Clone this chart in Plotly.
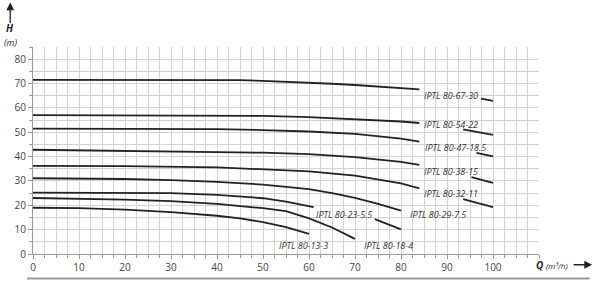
import plotly.graph_objects as go

# ---- data (Q in m3/h, H in m) ----
models = ["IPTL 80-67-30", "IPTL 80-54-22", "IPTL 80-47-18.5", "IPTL 80-38-15",
          "IPTL 80-32-11", "IPTL 80-29-7.5", "IPTL 80-23-5.5", "IPTL 80-18-4", "IPTL 80-13-3"]

q_67_30 = [0, 10, 20, 30, 40, 45, 50, 55, 60, 65, 70, 75, 80, 84]
h_67_30 = [71.5, 71.5, 71.5, 71.5, 71.5, 71.4, 71.1, 70.8, 70.4, 69.9, 69.4, 68.8, 68.2, 67.6]
q_67_30_tail = [97.4, 100]
h_67_30_tail = [63.8, 62.9]

q_54_22 = [0, 20, 40, 50, 60, 70, 80, 84]
h_54_22 = [57.0, 57.0, 56.9, 56.7, 56.2, 55.4, 54.4, 53.8]
q_54_22_tail = [93.5, 100]
h_54_22_tail = [51.2, 48.9]

q_47_18 = [0, 20, 30, 40, 50, 60, 70, 80, 84]
h_47_18 = [51.5, 51.5, 51.5, 51.3, 50.9, 50.3, 49.3, 47.4, 46.1]
q_47_18_tail = [96.4, 100]
h_47_18_tail = [41.5, 40.1]

q_38_15 = [0, 20, 40, 50, 60, 70, 80, 84]
h_38_15 = [42.8, 42.3, 41.8, 41.6, 41.0, 39.8, 37.8, 36.6]
q_38_15_tail = [95.3, 100]
h_38_15_tail = [31.6, 29.2]

q_32_11 = [0, 20, 40, 50, 60, 70, 80, 84]
h_32_11 = [36.2, 36.1, 35.6, 34.9, 33.9, 32.2, 29.0, 26.9]
q_32_11_tail = [93.5, 100]
h_32_11_tail = [22.5, 19.2]

q_29_7 = [0, 20, 30, 40, 50, 60, 65, 70, 75, 80]
h_29_7 = [31.1, 30.8, 30.3, 29.6, 28.5, 26.6, 25.0, 23.0, 20.6, 17.8]

q_23_5 = [0, 20, 30, 40, 50, 55, 61]
h_23_5 = [25.2, 25.2, 25.0, 24.3, 22.9, 21.5, 19.2]
q_23_5_tail = [74.3, 80]
h_23_5_tail = [14.3, 10.1]

q_18_4 = [0, 10, 20, 30, 40, 50, 55, 60, 65, 70]
h_18_4 = [23.0, 22.8, 22.3, 21.7, 20.6, 18.8, 17.6, 14.6, 10.9, 6.2]

q_13_3 = [0, 10, 20, 30, 40, 45, 50, 55, 60]
h_13_3 = [19.0, 18.8, 18.2, 17.2, 15.7, 14.6, 13.1, 11.0, 8.3]

curves = [
    (q_67_30, h_67_30, q_67_30_tail, h_67_30_tail),
    (q_54_22, h_54_22, q_54_22_tail, h_54_22_tail),
    (q_47_18, h_47_18, q_47_18_tail, h_47_18_tail),
    (q_38_15, h_38_15, q_38_15_tail, h_38_15_tail),
    (q_32_11, h_32_11, q_32_11_tail, h_32_11_tail),
    (q_29_7, h_29_7, [], []),
    (q_23_5, h_23_5, q_23_5_tail, h_23_5_tail),
    (q_18_4, h_18_4, [], []),
    (q_13_3, h_13_3, [], []),
]

# label anchor points (Q, H)
label_q = [90.9, 90.9, 91.8, 90.9, 90.9, 88.0, 67.6, 77.3, 58.7]
label_h = [65.0, 53.3, 43.6, 33.7, 24.8, 16.4, 16.4, 3.3, 3.6]

x_ticks = [0, 10, 20, 30, 40, 50, 60, 70, 80, 90, 100]
y_ticks = [0, 10, 20, 30, 40, 50, 60, 70, 80]

fig = go.Figure()
for name, (qm, hm, qt, ht) in zip(models, curves):
    xs = list(qm)
    ys = list(hm)
    if qt:
        xs += [None] + list(qt)
        ys += [None] + list(ht)
    fig.add_trace(go.Scatter(x=xs, y=ys, mode="lines", name=name,
                             line=dict(color="#222222", width=1.8),
                             connectgaps=False, hoverinfo="skip"))

label_font = dict(family="Open Sans, sans-serif", size=9, color="#333333")
for name, lq, lh in zip(models, label_q, label_h):
    fig.add_annotation(x=lq, y=lh, text="<i>" + name + "</i>", showarrow=False,
                       font=label_font, xanchor="center", yanchor="middle")

grid_c = "#d2d2d2"
fig.update_xaxes(range=[0, 110], tickmode="array", tickvals=x_ticks,
                 showgrid=True, gridcolor=grid_c, gridwidth=1,
                 minor=dict(tickmode="linear", tick0=0, dtick=2.5, showgrid=True,
                            gridcolor=grid_c, gridwidth=1, ticks="outside",
                            ticklen=3, tickcolor="#999999"),
                 showline=True, linecolor="#999999", linewidth=1,
                 ticks="outside", ticklen=4, tickcolor="#999999",
                 zeroline=False,
                 tickfont=dict(family="Open Sans, sans-serif", size=10, color="#444444"))
fig.update_yaxes(range=[0, 85], tickmode="array", tickvals=y_ticks,
                 showgrid=True, gridcolor=grid_c, gridwidth=1,
                 minor=dict(tickmode="linear", tick0=0, dtick=5, showgrid=True,
                            gridcolor=grid_c, gridwidth=1, ticks="outside",
                            ticklen=3, tickcolor="#999999"),
                 showline=True, linecolor="#999999", linewidth=1,
                 ticks="outside", ticklen=4, tickcolor="#999999",
                 zeroline=False,
                 tickfont=dict(family="Open Sans, sans-serif", size=10, color="#444444"))

# axis titles and arrows (paper coords)
ax_font = dict(family="Open Sans, sans-serif", size=10, color="#222222")
fig.add_annotation(xref="paper", yref="paper", x=-0.045, y=1.09,
                   text="<b><i>H</i></b>", showarrow=False, font=ax_font,
                   xanchor="center", yanchor="middle")
fig.add_annotation(xref="paper", yref="paper", x=-0.045, y=1.024,
                   text="<i>(m)</i>", showarrow=False,
                   font=dict(family="Open Sans, sans-serif", size=9, color="#222222"),
                   xanchor="center", yanchor="middle")
fig.add_annotation(xref="paper", yref="paper", x=-0.045, y=1.215, text="",
                   showarrow=True, arrowhead=2, arrowsize=1.2, arrowwidth=1.3,
                   arrowcolor="#222222", ax=0, ay=22)
fig.add_annotation(xref="paper", yref="paper", x=0.99, y=-0.052,
                   text="<b><i>Q</i></b> <i><span style='font-size:8px'>(m³/h)</span></i>",
                   showarrow=False, font=ax_font, xanchor="left", yanchor="middle")
fig.add_annotation(xref="paper", yref="paper", x=1.105, y=-0.052, text="",
                   showarrow=True, arrowhead=2, arrowsize=1.2, arrowwidth=1.3,
                   arrowcolor="#222222", ax=-20, ay=0)

fig.add_shape(type="line", xref="paper", yref="paper", x0=-0.012, x1=1.10,
              y0=-0.118, y1=-0.118, line=dict(color="#999999", width=2))

fig.update_layout(width=600, height=286, margin=dict(l=33, r=61, t=47, b=28),
                  plot_bgcolor="white", paper_bgcolor="white", showlegend=False)

fig.write_html("out.html")
